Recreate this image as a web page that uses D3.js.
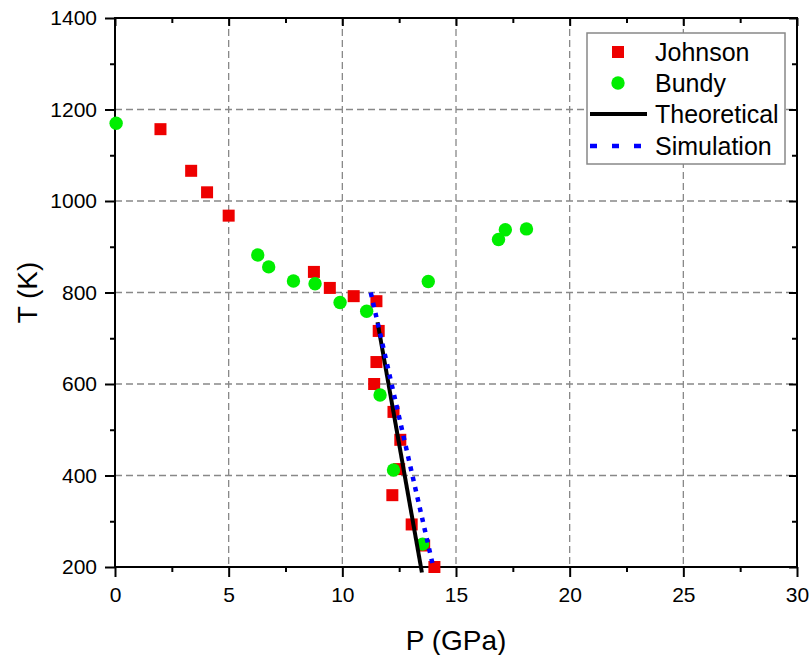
<!DOCTYPE html>
<html>
<head>
<meta charset="utf-8">
<script src="https://cdn.jsdelivr.net/npm/d3@7"></script>
<style>
  body { margin: 0; background: #fff; }
  text { font-family: "Liberation Sans", Arial, sans-serif; }
</style>
</head>
<body>
<svg id="chart"></svg>
<script>
// data
const johnsonP = [2.0, 3.35, 4.05, 5.0, 8.75, 9.45, 10.5, 11.5, 11.6, 11.5, 11.4, 12.25, 12.55, 12.5, 12.2, 13.05, 13.6, 14.05];
const johnsonT = [1157, 1066, 1019, 968, 845, 810, 792, 781, 716, 648, 600, 539, 478, 414, 357, 293, 247, 200];

const bundyP = [0.05, 6.28, 6.76, 7.85, 8.8, 9.9, 11.07, 11.66, 12.25, 13.53, 13.78, 16.87, 17.17, 18.1];
const bundyT = [1170, 882, 856, 825, 819, 778, 759, 576, 412, 250, 824, 916, 937, 939];

const theoryP = [11.55, 13.5];
const theoryT = [735, 188];

const simP = [11.25, 14.0];
const simT = [800, 200];

const xTicks = [0, 5, 10, 15, 20, 25, 30];
const yTicks = [200, 400, 600, 800, 1000, 1200, 1400];

const W = 812, H = 655;
const pL = 115, pR = 797, pT = 18, pB = 567; // plot area

const svg = d3.select('#chart').attr('width', W).attr('height', H);

const x = d3.scaleLinear().domain([0, 30]).range([pL, pR]);
const y = d3.scaleLinear().domain([200, 1400]).range([pB, pT]);

// grid
const grid = svg.append('g').attr('class', 'grid');
grid.selectAll('.gx').data(xTicks.slice(1, -1)).enter().append('line')
  .attr('x1', d => x(d)).attr('x2', d => x(d)).attr('y1', pT).attr('y2', pB)
  .attr('stroke', '#888').attr('stroke-width', 1.3).attr('stroke-dasharray', '7,4');
grid.selectAll('.gy').data(yTicks.slice(1, -1)).enter().append('line')
  .attr('y1', d => y(d)).attr('y2', d => y(d)).attr('x1', pL).attr('x2', pR)
  .attr('stroke', '#888').attr('stroke-width', 1.3).attr('stroke-dasharray', '7,4');

// axes
const minorX = d3.range(0, 30.01, 2.5).filter(v => v % 5 !== 0);
const minorY = d3.range(200, 1401, 100).filter(v => v % 200 !== 0);

const xAxis = svg.append('g').attr('transform', `translate(0,${pB})`)
  .call(d3.axisBottom(x).tickValues(xTicks).tickSize(10).tickPadding(10).tickFormat(d3.format('d')));
const xMinor = svg.append('g').attr('transform', `translate(0,${pB})`)
  .call(d3.axisBottom(x).tickValues(minorX).tickSize(5).tickFormat(''));
const xTop = svg.append('g').attr('transform', `translate(0,${pT})`)
  .call(d3.axisBottom(x).tickValues(xTicks).tickSize(8).tickFormat(''));
const xTopMinor = svg.append('g').attr('transform', `translate(0,${pT})`)
  .call(d3.axisBottom(x).tickValues(minorX).tickSize(5).tickFormat(''));

const yAxis = svg.append('g').attr('transform', `translate(${pL},0)`)
  .call(d3.axisLeft(y).tickValues(yTicks).tickSize(10).tickPadding(8).tickFormat(d3.format('d')));
const yMinor = svg.append('g').attr('transform', `translate(${pL},0)`)
  .call(d3.axisLeft(y).tickValues(minorY).tickSize(5).tickFormat(''));
const yRight = svg.append('g').attr('transform', `translate(${pR},0)`)
  .call(d3.axisLeft(y).tickValues(yTicks).tickSize(8).tickFormat(''));
const yRightMinor = svg.append('g').attr('transform', `translate(${pR},0)`)
  .call(d3.axisLeft(y).tickValues(minorY).tickSize(5).tickFormat(''));

[xAxis, xMinor, xTop, xTopMinor, yAxis, yMinor, yRight, yRightMinor].forEach(g => {
  g.select('.domain').remove();
  g.selectAll('line').attr('stroke', '#000').attr('stroke-width', 2);
  g.selectAll('text').attr('font-size', 21).attr('fill', '#000')
    .style('font-family', '"Liberation Sans", Arial, sans-serif');
});
// ticks on top and right point inwards
xTop.selectAll('line').attr('y2', 8);
yRight.selectAll('line').attr('x2', -8);
xTopMinor.selectAll('line').attr('y2', 5);
yRightMinor.selectAll('line').attr('x2', -5);

// frame
svg.append('rect').attr('x', pL).attr('y', pT)
  .attr('width', pR - pL).attr('height', pB - pT)
  .attr('fill', 'none').attr('stroke', '#000').attr('stroke-width', 2);

// axis titles
svg.append('text').attr('x', (pL + pR) / 2).attr('y', 650)
  .attr('text-anchor', 'middle').attr('font-size', 28).text('P (GPa)');
svg.append('text').attr('transform', `translate(37,${(pT + pB) / 2}) rotate(-90)`)
  .attr('text-anchor', 'middle').attr('font-size', 28).text('T (K)');

// scatter
const johnson = johnsonP.map((p, i) => ({ p, t: johnsonT[i] }));
const bundy = bundyP.map((p, i) => ({ p, t: bundyT[i] }));
const sq = 12;

svg.append('g').selectAll('rect').data(johnson).enter().append('rect')
  .attr('x', d => x(d.p) - sq / 2).attr('y', d => y(d.t) - sq / 2)
  .attr('width', sq).attr('height', sq).attr('fill', '#ee0000');

svg.append('g').selectAll('circle').data(bundy).enter().append('circle')
  .attr('cx', d => x(d.p)).attr('cy', d => y(d.t)).attr('r', 6.7).attr('fill', '#00ee00');

// lines
const line = d3.line().x(d => x(d.p)).y(d => y(d.t));
svg.append('path').datum(theoryP.map((p, i) => ({ p, t: theoryT[i] })))
  .attr('d', line).attr('fill', 'none').attr('stroke', '#000').attr('stroke-width', 4);
svg.append('path').datum(simP.map((p, i) => ({ p, t: simT[i] })))
  .attr('d', line).attr('fill', 'none').attr('stroke', '#0000ff').attr('stroke-width', 4.5)
  .attr('stroke-dasharray', '4.5,6');

// legend
const lg = svg.append('g');
lg.append('rect').attr('x', 587).attr('y', 33).attr('width', 198).attr('height', 131)
  .attr('fill', '#fff').attr('stroke', '#888').attr('stroke-width', 1.5);
const rows = [52, 83, 114, 146];
lg.append('rect').attr('x', 618 - 6).attr('y', rows[0] - 6).attr('width', 12).attr('height', 12).attr('fill', '#ee0000');
lg.append('circle').attr('cx', 618).attr('cy', rows[1]).attr('r', 6.7).attr('fill', '#00ee00');
lg.append('line').attr('x1', 590).attr('x2', 647).attr('y1', rows[2]).attr('y2', rows[2])
  .attr('stroke', '#000').attr('stroke-width', 4);
lg.append('line').attr('x1', 590).attr('x2', 647).attr('y1', rows[3]).attr('y2', rows[3])
  .attr('stroke', '#0000ff').attr('stroke-width', 4.5).attr('stroke-dasharray', '7,15');
['Johnson', 'Bundy', 'Theoretical', 'Simulation'].forEach((t, i) => {
  lg.append('text').attr('x', 655).attr('y', rows[i]).attr('dy', '0.36em')
    .attr('font-size', 25).text(t);
});
</script>
</body>
</html>
